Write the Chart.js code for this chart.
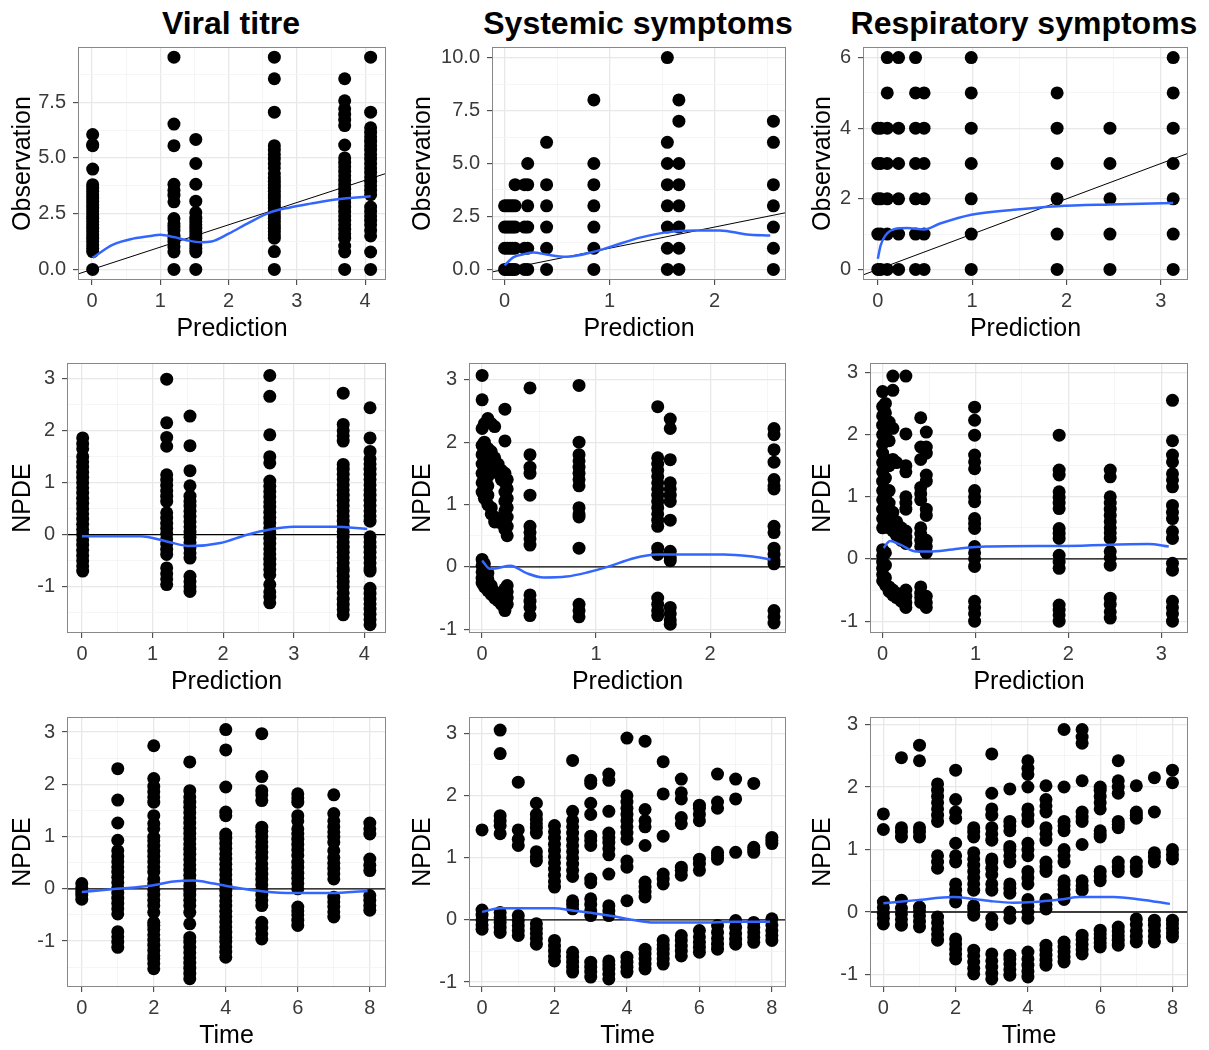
<!DOCTYPE html>
<html>
<head>
<meta charset="utf-8">
<script src="https://cdn.jsdelivr.net/npm/chart.js@4.4.0/dist/chart.umd.min.js"></script>
<style>
  body { margin: 0; background: #fff; width: 1209px; height: 1050px; position: relative; overflow: hidden;
         font-family: "Liberation Sans", Arial, sans-serif; }
  canvas { position: absolute; }
  .title { position: absolute; top: 4px; font-weight: bold; font-size: 32px; line-height: 38px;
           transform: translateX(-50%); color: #000; white-space: nowrap; }
</style>
</head>
<body>
<div class="title" style="left:231px">Viral titre</div>
<div class="title" style="left:638px">Systemic symptoms</div>
<div class="title" style="left:1024px">Respiratory symptoms</div>
<canvas id="c0"></canvas><canvas id="c1"></canvas><canvas id="c2"></canvas>
<canvas id="c3"></canvas><canvas id="c4"></canvas><canvas id="c5"></canvas>
<canvas id="c6"></canvas><canvas id="c7"></canvas><canvas id="c8"></canvas>
<script>
// ---- tick values ----
const predTicks4 = [0, 1, 2, 3, 4], predMinor4 = [0.5, 1.5, 2.5, 3.5];
const predTicks2 = [0, 1, 2], predMinor2 = [0.5, 1.5, 2.5];
const predTicks3 = [0, 1, 2, 3], predMinor3 = [0.5, 1.5, 2.5];
const timeTicks = [0, 2, 4, 6, 8], timeMinor = [1, 3, 5, 7];
const obsTicksA = [0, 2.5, 5, 7.5], obsMinorA = [1.25, 3.75, 6.25, 8.75];
const obsTicksB = [0, 2.5, 5, 7.5, 10], obsMinorB = [1.25, 3.75, 6.25, 8.75];
const obsTicksC = [0, 2, 4, 6], obsMinorC = [1, 3, 5];
const npdeTicks = [-1, 0, 1, 2, 3], npdeMinor = [-1.5, -0.5, 0.5, 1.5, 2.5];

// ---- viral titre: observation vs prediction ----
const vtObsCols = [0.01, 1.2, 1.52, 2.67, 3.7, 4.08];
const vtObsVals = [
  [0, 0.8, 0.95, 1.1, 1.25, 1.4, 1.55, 1.7, 1.85, 2.0, 2.15, 2.3, 2.45, 2.6, 2.75, 2.9, 3.05, 3.2, 3.35, 3.5, 3.65, 3.8, 4.5, 5.55, 5.6, 6.05],
  [0, 0.78, 1.0, 1.23, 1.4, 1.53, 1.75, 1.9, 2.05, 2.28, 3.03, 3.33, 3.55, 3.82, 5.55, 6.52, 9.52],
  [0, 0.78, 0.95, 1.1, 1.25, 1.4, 1.55, 1.7, 1.85, 2.0, 2.15, 2.3, 2.55, 3.06, 3.82, 4.75, 5.83],
  [0, 0.8, 1.4, 1.55, 1.7, 1.85, 2.0, 2.15, 2.3, 2.45, 2.6, 2.75, 2.9, 3.05, 3.2, 3.35, 3.5, 3.65, 3.8, 3.95, 4.1, 4.3, 4.55, 4.75, 4.95, 5.15, 5.35, 5.55, 7.05, 8.55, 9.52],
  [0, 0.78, 1.05, 1.4, 1.6, 1.8, 2.0, 2.2, 2.4, 2.6, 2.8, 3.0, 3.2, 3.4, 3.6, 3.8, 4.0, 4.2, 4.4, 4.6, 4.8, 5.0, 5.58, 6.45, 6.7, 6.95, 7.2, 7.56, 8.55],
  [0, 0.78, 1.5, 1.75, 2.0, 2.2, 2.4, 2.6, 2.8, 3.35, 3.55, 3.75, 3.95, 4.15, 4.35, 4.55, 4.75, 4.95, 5.15, 5.35, 5.55, 5.75, 5.95, 6.15, 6.35, 7.05, 9.52]
];
const vtObsFitX = [0.01, 0.3, 0.6, 0.9, 1.0, 1.2, 1.4, 1.6, 1.75, 2.0, 2.3, 2.6, 2.9, 3.2, 3.6, 4.08];
const vtObsFitY = [0.52, 1.1, 1.38, 1.52, 1.55, 1.45, 1.3, 1.22, 1.25, 1.6, 2.1, 2.55, 2.78, 2.95, 3.15, 3.28];

// ---- systemic symptoms: observation vs prediction ----
const ssObsCols = [0, 0.025, 0.05, 0.075, 0.1, 0.19, 0.22, 0.4, 0.85, 1.55, 1.66, 2.56];
const ssObsVals = [
  [0, 1, 2, 3], [0, 1, 2, 3], [0, 1, 2, 3], [0, 1, 2, 3], [0, 1, 2, 3, 4],
  [0, 1, 2, 4], [0, 1, 2, 3, 4, 5], [0, 1, 2, 3, 4, 6], [0, 1, 2, 3, 4, 5, 8],
  [0, 1, 2, 3, 4, 5, 6, 10], [0, 1, 2, 3, 4, 5, 7, 8], [0, 1, 2, 3, 4, 6, 7]
];
const ssObsFitX = [0, 0.086, 0.18, 0.276, 0.4, 0.59, 0.84, 1.04, 1.29, 1.55, 1.8, 2.05, 2.31, 2.53];
const ssObsFitY = [0.19, 0.58, 0.72, 0.8, 0.7, 0.6, 0.82, 1.12, 1.5, 1.76, 1.84, 1.84, 1.65, 1.6];

// ---- respiratory symptoms: observation vs prediction ----
const rsObsCols = [0, 0.03, 0.1, 0.22, 0.4, 0.49, 0.99, 1.9, 2.46, 3.13];
const rsObsVals = [
  [0, 1, 2, 3, 4], [0, 1, 2, 3, 4], [0, 1, 2, 3, 4, 5, 6], [0, 1, 2, 3, 4, 6],
  [0, 1, 2, 3, 4, 5, 6], [0, 1, 2, 3, 4, 5], [0, 1, 2, 3, 4, 5, 6], [0, 1, 2, 3, 4, 5],
  [0, 1, 2, 3, 4], [0, 1, 2, 3, 4, 5, 6]
];
const rsObsFitX = [0, 0.03, 0.08, 0.19, 0.31, 0.49, 0.66, 0.99, 1.44, 1.9, 2.46, 3.13];
const rsObsFitY = [0.3, 0.68, 0.96, 1.15, 1.17, 1.13, 1.3, 1.55, 1.69, 1.79, 1.84, 1.88];

// ---- viral titre: NPDE vs prediction ----
const vtPredCols = [0.01, 1.2, 1.53, 2.66, 3.7, 4.08];
const vtPredVals = [
  [-0.7, -0.6, -0.5, -0.4, -0.3, -0.2, -0.1, 0, 0.1, 0.2, 0.3, 0.4, 0.5, 0.6, 0.7, 0.8, 0.9, 1.0, 1.1, 1.2, 1.3, 1.4, 1.5, 1.65, 1.75, 1.86],
  [-0.96, -0.85, -0.75, -0.64, -0.38, -0.28, -0.18, -0.08, 0.02, 0.12, 0.22, 0.32, 0.42, 0.64, 0.74, 0.84, 0.95, 1.05, 1.15, 1.7, 1.87, 2.15, 2.99],
  [-1.09, -1.0, -0.9, -0.8, -0.45, -0.35, -0.25, -0.15, -0.05, 0.05, 0.15, 0.25, 0.35, 0.45, 0.55, 0.64, 0.74, 0.94, 1.23, 1.71, 2.28],
  [-1.31, -1.2, -1.1, -0.96, -0.77, -0.67, -0.57, -0.47, -0.37, -0.27, -0.17, -0.07, 0.03, 0.13, 0.23, 0.33, 0.43, 0.53, 0.63, 0.73, 0.83, 0.93, 1.03, 1.38, 1.5, 1.92, 2.66, 3.06],
  [-1.54, -1.44, -1.34, -1.24, -1.12, -1.0, -0.9, -0.8, -0.7, -0.64, -0.54, -0.44, -0.34, -0.24, -0.14, -0.04, 0.06, 0.16, 0.26, 0.36, 0.46, 0.56, 0.66, 0.76, 0.86, 0.96, 1.06, 1.16, 1.26, 1.35, 1.8, 1.9, 2.0, 2.12, 2.72],
  [-1.73, -1.63, -1.53, -1.43, -1.33, -1.23, -1.13, -1.03, -0.7, -0.64, -0.54, -0.44, -0.34, -0.24, -0.14, -0.04, 0.26, 0.36, 0.46, 0.56, 0.66, 0.76, 0.86, 0.96, 1.06, 1.16, 1.26, 1.36, 1.46, 1.6, 1.86, 2.44]
];
const vtPredFitX = [0, 0.83, 1.2, 1.53, 1.96, 2.34, 2.66, 3.0, 3.57, 4.04];
const vtPredFitY = [-0.03, -0.03, -0.13, -0.22, -0.16, 0, 0.1, 0.15, 0.15, 0.11];

// ---- systemic symptoms: NPDE vs prediction ----
const ssPredCols = [0, 0.02, 0.05, 0.08, 0.11, 0.14, 0.17, 0.2, 0.22, 0.42, 0.85, 1.54, 1.65, 2.56];
const ssPredVals = [
  [3.07, 2.68, 2.22, 1.95, 1.8, 1.65, 1.5, 1.35, 1.2, 0.12, 0.02, -0.08, -0.18, -0.26],
  [2.3, 2.0, 1.85, 1.7, 1.55, 1.4, 1.25, 1.1, 0.05, -0.05, -0.15, -0.25, -0.32],
  [2.38, 1.9, 1.75, 1.6, 1.45, 1.3, 1.15, 1.0, -0.1, -0.2, -0.3, -0.38],
  [2.3, 1.85, 1.7, 1.55, 0.95, 0.85, -0.3, -0.38, -0.44],
  [2.25, 1.75, 1.6, 0.8, 0.72, -0.4, -0.46, -0.5],
  [1.65, 1.5, 0.72, -0.48, -0.54],
  [1.55, 1.4, 0.7, -0.55, -0.6],
  [2.53, 2.02, 1.5, 1.35, 1.2, 1.05, 0.9, 0.75, 0.6, -0.35, -0.45, -0.55, -0.65, -0.7],
  [1.4, 1.25, 1.1, 0.95, 0.8, 0.65, 0.5, -0.3, -0.4, -0.5, -0.6],
  [2.87, 1.8, 1.6, 1.5, 1.15, 0.65, 0.55, 0.45, 0.35, -0.45, -0.55, -0.65, -0.78],
  [2.91, 2.0, 1.8, 1.7, 1.6, 1.5, 1.4, 1.3, 0.95, 0.85, 0.8, 0.3, -0.6, -0.7, -0.8],
  [2.57, 1.75, 1.65, 1.55, 1.45, 1.35, 1.25, 1.15, 1.05, 0.95, 0.85, 0.75, 0.65, 0.3, 0.2, -0.5, -0.6, -0.7, -0.78],
  [2.37, 2.22, 1.72, 1.35, 1.25, 1.15, 1.05, 0.75, 0.25, 0.15, 0.1, -0.65, -0.75, -0.85, -0.92],
  [2.22, 2.12, 1.88, 1.68, 1.4, 1.3, 1.25, 0.65, 0.55, 0.3, 0.2, 0.1, 0.05, -0.7, -0.8, -0.9]
];
const ssPredFitX = [0, 0.07, 0.13, 0.25, 0.39, 0.54, 0.74, 0.92, 1.1, 1.33, 1.53, 1.91, 2.12, 2.35, 2.53];
const ssPredFitY = [0.1, -0.03, -0.02, 0.02, -0.1, -0.17, -0.155, -0.09, 0, 0.14, 0.2, 0.2, 0.2, 0.17, 0.12];

// ---- respiratory symptoms: NPDE vs prediction ----
const rsPredCols = [0, 0.03, 0.07, 0.11, 0.15, 0.2, 0.25, 0.41, 0.47, 0.99, 1.9, 2.45, 3.12];
const rsPredVals = [
  [2.69, 2.45, 2.3, 2.15, 2.0, 1.85, 1.7, 1.55, 1.4, 1.25, 1.1, 0.95, 0.8, 0.65, 0.5, 0.15, 0.05, -0.05, -0.15, -0.25, -0.35],
  [2.5, 2.35, 2.0, 1.6, 1.3, 1.0, 0.8, 0.6, 0.1, -0.1, -0.3, -0.42],
  [2.2, 1.9, 1.5, 1.1, 0.9, 0.7, 0.5, -0.45, -0.52],
  [2.94, 2.71, 2.1, 1.6, 0.75, 0.55, 0.45, -0.5, -0.58],
  [1.55, 0.6, 0.45, 0.38, -0.55, -0.62],
  [0.5, 0.4, 0.3, -0.6, -0.68],
  [2.94, 2.01, 1.5, 1.4, 1.0, 0.9, 0.8, 0.45, 0.35, 0.25, -0.5, -0.6, -0.7, -0.78],
  [2.27, 1.8, 1.6, 1.15, 1.05, 0.95, 0.5, 0.4, 0.3, 0.2, -0.45, -0.55, -0.62, -0.7],
  [2.04, 1.8, 1.7, 1.35, 1.25, 0.8, 0.7, 0.3, 0.2, 0.1, -0.6, -0.7, -0.78],
  [2.44, 2.23, 1.99, 1.67, 1.56, 1.45, 1.1, 1.0, 0.92, 0.65, 0.57, 0.49, 0.2, 0.1, 0.0, -0.12, -0.68, -0.78, -0.88, -1.0],
  [1.99, 1.43, 1.35, 1.08, 0.99, 0.9, 0.81, 0.49, 0.41, 0.33, 0.06, -0.05, -0.15, -0.74, -0.82, -0.9, -1.0],
  [1.43, 1.32, 1.0, 0.9, 0.8, 0.7, 0.6, 0.5, 0.42, 0.33, 0.12, 0.02, -0.1, -0.63, -0.73, -0.85, -0.95],
  [2.55, 1.9, 1.67, 1.56, 1.37, 1.27, 1.16, 0.86, 0.75, 0.65, 0.44, 0.33, -0.07, -0.18, -0.68, -0.78, -0.88, -1.0]
];
const rsPredFitX = [0.01, 0.08, 0.19, 0.36, 0.54, 0.83, 1.11, 1.97, 2.86, 3.08];
const rsPredFitY = [0.18, 0.29, 0.23, 0.12, 0.12, 0.17, 0.2, 0.21, 0.24, 0.2];

// ---- viral titre: NPDE vs time ----
const vtTimeCols = [0, 1, 2, 3, 4, 5, 6, 7, 8];
const vtTimeVals = [
  [-0.2, -0.12, -0.05, 0.02, 0.1],
  [-1.12, -1.02, -0.92, -0.82, -0.48, -0.38, -0.28, -0.18, -0.08, 0.02, 0.12, 0.22, 0.32, 0.42, 0.52, 0.62, 0.73, 0.93, 1.26, 1.7, 2.3],
  [-1.53, -1.43, -1.34, -1.28, -1.18, -1.08, -0.98, -0.88, -0.78, -0.7, -0.64, -0.45, -0.32, -0.22, -0.12, -0.02, 0.09, 0.19, 0.32, 0.42, 0.52, 0.62, 0.72, 0.82, 0.92, 0.99, 1.15, 1.25, 1.4, 1.66, 1.76, 1.86, 1.96, 2.11, 2.74],
  [-1.72, -1.62, -1.52, -1.42, -1.32, -1.22, -1.12, -1.02, -0.93, -0.67, -0.45, -0.32, -0.22, -0.12, -0.03, 0.06, 0.16, 0.26, 0.36, 0.46, 0.56, 0.66, 0.76, 0.86, 0.96, 1.06, 1.16, 1.26, 1.36, 1.46, 1.56, 1.66, 1.76, 1.88, 2.43],
  [-1.31, -1.21, -1.11, -1.01, -0.93, -0.83, -0.73, -0.63, -0.53, -0.43, -0.33, -0.23, -0.13, -0.03, 0.07, 0.17, 0.27, 0.37, 0.47, 0.57, 0.67, 0.77, 0.87, 0.97, 1.05, 1.4, 1.47, 1.95, 2.66, 3.05],
  [-0.96, -0.86, -0.75, -0.64, -0.32, -0.22, -0.12, -0.02, 0.08, 0.18, 0.28, 0.38, 0.48, 0.6, 0.7, 0.8, 0.9, 1.0, 1.1, 1.18, 1.69, 1.8, 1.88, 2.15, 2.97],
  [-0.7, -0.6, -0.5, -0.42, -0.35, 0, 0.1, 0.2, 0.3, 0.41, 0.51, 0.64, 0.75, 0.85, 0.95, 1.05, 1.15, 1.3, 1.4, 1.66, 1.74, 1.82],
  [-0.54, -0.44, -0.34, -0.25, -0.16, 0.19, 0.29, 0.39, 0.49, 0.6, 0.73, 0.89, 0.99, 1.09, 1.19, 1.3, 1.44, 1.8],
  [-0.41, -0.32, -0.22, -0.13, 0.35, 0.45, 0.57, 1.05, 1.15, 1.26]
];
const vtTimeFitX = [0, 0.97, 1.9, 2.55, 3.1, 3.67, 4.22, 5.06, 5.89, 6.91, 7.94];
const vtTimeFitY = [-0.06, 0, 0.06, 0.14, 0.16, 0.1, 0.03, -0.05, -0.08, -0.08, -0.04];

// ---- systemic symptoms: NPDE vs time ----
const ssTimeCols = [0, 0.5, 1, 1.5, 2, 2.5, 3, 3.5, 4, 4.5, 5, 5.5, 6, 6.5, 7, 7.5, 8];
const ssTimeVals = [
  [-0.15, -0.08, 0, 0.08, 0.16, 1.45],
  [-0.2, -0.12, -0.04, 0.04, 0.12, 1.39, 1.52, 1.6, 1.68, 2.68, 3.06],
  [-0.25, -0.17, -0.09, -0.01, 0.07, 1.2, 1.3, 1.45, 2.22],
  [-0.39, -0.3, -0.22, -0.14, -0.06, 0.95, 1.02, 1.1, 1.4, 1.48, 1.55, 1.62, 1.7, 1.88],
  [-0.66, -0.58, -0.5, -0.42, -0.33, 0.53, 0.62, 0.72, 0.82, 0.92, 1.02, 1.12, 1.22, 1.32, 1.42, 1.52],
  [-0.84, -0.76, -0.68, -0.6, -0.52, 0.18, 0.25, 0.31, 0.7, 0.8, 0.9, 1.0, 1.1, 1.2, 1.3, 1.4, 1.5, 1.6, 1.75, 2.57],
  [-0.92, -0.84, -0.76, -0.68, 0.07, 0.15, 0.25, 0.34, 0.6, 0.66, 1.2, 1.28, 1.35, 1.7, 1.88, 2.2, 2.25],
  [-0.95, -0.87, -0.79, -0.72, -0.66, 0.07, 0.15, 0.23, 0.74, 1.05, 1.15, 1.25, 1.32, 1.4, 1.75, 2.25, 2.35],
  [-0.84, -0.76, -0.68, -0.6, 0.31, 0.85, 0.95, 1.3, 1.4, 1.5, 1.6, 1.7, 1.8, 1.9, 2.0, 2.93],
  [-0.79, -0.71, -0.63, -0.55, -0.47, 0.37, 0.45, 0.53, 0.61, 1.2, 1.5, 1.6, 1.78, 2.88],
  [-0.71, -0.63, -0.55, -0.47, -0.4, -0.33, 0.58, 0.66, 0.74, 1.35, 2.03, 2.55],
  [-0.58, -0.5, -0.42, -0.33, -0.25, 0.72, 0.8, 0.85, 1.55, 1.65, 1.95, 2.05, 2.27],
  [-0.52, -0.44, -0.36, -0.27, -0.17, 0.8, 0.9, 0.98, 1.6, 1.7, 1.8, 1.85],
  [-0.47, -0.39, -0.3, -0.2, -0.09, 0.98, 1.04, 1.09, 1.8, 1.9, 2.35],
  [-0.39, -0.31, -0.22, -0.12, -0.01, 1.09, 1.95, 2.27],
  [-0.36, -0.28, -0.2, -0.12, -0.04, 1.09, 1.13, 1.17, 2.2],
  [-0.33, -0.25, -0.17, -0.08, 0.02, 1.23, 1.28, 1.33]
];
const ssTimeFitX = [0, 0.5, 1.98, 2.53, 3.08, 3.63, 4.18, 4.74, 6.02, 6.94, 7.95];
const ssTimeFitY = [0.13, 0.19, 0.19, 0.15, 0.11, 0.06, 0, -0.04, -0.04, -0.03, -0.03];

// ---- respiratory symptoms: NPDE vs time ----
const rsTimeCols = [0, 0.5, 1, 1.5, 2, 2.5, 3, 3.5, 4, 4.5, 5, 5.5, 6, 6.5, 7, 7.5, 8];
const rsTimeVals = [
  [-0.19, -0.1, -0.02, 0.07, 0.16, 1.32, 1.57],
  [-0.21, -0.12, -0.03, 0.06, 0.19, 1.2, 1.28, 1.35, 2.47],
  [-0.24, -0.15, -0.06, 0.02, 0.08, 1.2, 1.28, 1.35, 2.42, 2.67],
  [-0.45, -0.36, -0.27, -0.17, -0.08, 0.7, 0.8, 0.9, 1.45, 1.55, 1.65, 1.75, 1.85, 1.95, 2.05],
  [-0.75, -0.67, -0.59, -0.51, -0.43, 0.16, 0.25, 0.35, 0.45, 0.8, 0.9, 1.1, 1.5, 1.6, 1.8, 2.27],
  [-0.99, -0.9, -0.8, -0.7, -0.61, -0.05, 0.05, 0.1, 0.35, 0.45, 0.55, 0.65, 0.75, 0.85, 0.95, 1.2, 1.28, 1.35],
  [-1.07, -0.98, -0.88, -0.78, -0.67, -0.2, -0.1, 0.35, 0.45, 0.6, 0.7, 0.8, 0.85, 1.15, 1.25, 1.35, 1.55, 1.65, 1.9, 2.53],
  [-1.01, -0.92, -0.83, -0.75, -0.69, -0.1, 0.0, 0.3, 0.38, 0.45, 0.8, 0.9, 1.0, 1.05, 1.3, 1.38, 1.45, 1.97],
  [-1.04, -0.95, -0.85, -0.75, -0.64, -0.1, 0.0, 0.1, 0.2, 0.45, 0.55, 0.65, 0.9, 1.0, 1.1, 1.45, 1.55, 1.65, 2.0, 2.2, 2.3, 2.42],
  [-0.85, -0.77, -0.69, -0.61, -0.53, 0.05, 0.12, 0.2, 0.65, 0.72, 0.8, 1.15, 1.25, 1.35, 1.6, 1.7, 1.8, 2.02],
  [-0.8, -0.72, -0.64, -0.56, -0.48, 0.2, 0.28, 0.36, 0.44, 0.5, 0.8, 0.9, 1.0, 1.3, 1.38, 1.45, 2.0, 2.92],
  [-0.67, -0.6, -0.52, -0.44, -0.37, 0.35, 0.42, 0.5, 1.08, 1.45, 1.52, 1.6, 2.1, 2.7, 2.8, 2.92],
  [-0.56, -0.49, -0.42, -0.35, -0.29, 0.5, 0.57, 0.65, 1.2, 1.25, 1.3, 1.65, 1.75, 1.85, 1.95, 2.0],
  [-0.53, -0.45, -0.38, -0.31, -0.24, 0.65, 0.72, 0.8, 1.35, 1.4, 1.45, 1.9, 2.0, 2.1, 2.42],
  [-0.48, -0.39, -0.3, -0.2, -0.11, 0.65, 0.72, 0.8, 1.5, 1.55, 1.6, 2.02],
  [-0.48, -0.39, -0.3, -0.21, -0.13, 0.8, 0.88, 0.95, 1.6, 2.15],
  [-0.4, -0.33, -0.26, -0.19, -0.13, 0.85, 0.92, 1.0, 2.07, 2.27]
];
const rsTimeFitX = [0, 0.92, 1.94, 2.49, 3.04, 3.6, 4.15, 4.89, 5.44, 6.37, 7.1, 7.93];
const rsTimeFitY = [0.14, 0.19, 0.24, 0.21, 0.17, 0.15, 0.16, 0.2, 0.24, 0.24, 0.2, 0.13];

// panel layout: [canvas left, plot left, plot top, plot right, plot bottom]
const panels = [
  { cols: vtObsCols, vals: vtObsVals, fx: vtObsFitX, fy: vtObsFitY, ref: 'identity',
    xr: [-0.205, 4.305], yr: [-0.475, 9.975], xt: [predTicks4, predMinor4], yt: [obsTicksA, obsMinorA], dec: 1,
    xTitle: 'Prediction', yTitle: 'Observation', box: [0, 78, 47, 386, 280] },
  { cols: ssObsCols, vals: ssObsVals, fx: ssObsFitX, fy: ssObsFitY, ref: 'identity',
    xr: [-0.12, 2.68], yr: [-0.5, 10.5], xt: [predTicks2, predMinor2], yt: [obsTicksB, obsMinorB], dec: 1,
    xTitle: 'Prediction', yTitle: 'Observation', box: [400, 492, 47, 786, 280] },
  { cols: rsObsCols, vals: rsObsVals, fx: rsObsFitX, fy: rsObsFitY, ref: 'identity',
    xr: [-0.157, 3.287], yr: [-0.3, 6.3], xt: [predTicks3, predMinor3], yt: [obsTicksC, obsMinorC], dec: 0,
    xTitle: 'Prediction', yTitle: 'Observation', box: [800, 863, 47, 1188, 280] },
  { cols: vtPredCols, vals: vtPredVals, fx: vtPredFitX, fy: vtPredFitY, ref: 'zero',
    xr: [-0.212, 4.306], yr: [-1.89, 3.30], xt: [predTicks4, predMinor4], yt: [npdeTicks, npdeMinor], dec: 0,
    xTitle: 'Prediction', yTitle: 'NPDE', box: [0, 67, 363, 386, 633] },
  { cols: ssPredCols, vals: ssPredVals, fx: ssPredFitX, fy: ssPredFitY, ref: 'zero',
    xr: [-0.115, 2.665], yr: [-1.06, 3.27], xt: [predTicks2, predMinor2], yt: [npdeTicks, npdeMinor], dec: 0,
    xTitle: 'Prediction', yTitle: 'NPDE', box: [400, 469, 363, 786, 633] },
  { cols: rsPredCols, vals: rsPredVals, fx: rsPredFitX, fy: rsPredFitY, ref: 'zero',
    xr: [-0.136, 3.287], yr: [-1.19, 3.15], xt: [predTicks3, predMinor3], yt: [npdeTicks, npdeMinor], dec: 0,
    xTitle: 'Prediction', yTitle: 'NPDE', box: [800, 870, 363, 1188, 633] },
  { cols: vtTimeCols, vals: vtTimeVals, fx: vtTimeFitX, fy: vtTimeFitY, ref: 'zero',
    xr: [-0.41, 8.45], yr: [-1.88, 3.29], xt: [timeTicks, timeMinor], yt: [npdeTicks, npdeMinor], dec: 0,
    xTitle: 'Time', yTitle: 'NPDE', box: [0, 67, 717, 386, 987] },
  { cols: ssTimeCols, vals: ssTimeVals, fx: ssTimeFitX, fy: ssTimeFitY, ref: 'zero',
    xr: [-0.36, 8.39], yr: [-1.08, 3.27], xt: [timeTicks, timeMinor], yt: [npdeTicks, npdeMinor], dec: 0,
    xTitle: 'Time', yTitle: 'NPDE', box: [400, 469, 717, 786, 987] },
  { cols: rsTimeCols, vals: rsTimeVals, fx: rsTimeFitX, fy: rsTimeFitY, ref: 'zero',
    xr: [-0.37, 8.43], yr: [-1.2, 3.12], xt: [timeTicks, timeMinor], yt: [npdeTicks, npdeMinor], dec: 0,
    xTitle: 'Time', yTitle: 'NPDE', box: [800, 870, 717, 1188, 987] }
];

Chart.defaults.font.family = '"Liberation Sans", Arial, sans-serif';

const TOP_PAD = 12, RIGHT_PAD = 8, X_AXIS_H = 64;

const panelBorder = {
  id: 'panelBorder',
  afterDraw(chart) {
    const a = chart.chartArea, c = chart.ctx;
    c.save();
    c.strokeStyle = '#888888';
    c.lineWidth = 1;
    c.strokeRect(Math.round(a.left) + 0.5, Math.round(a.top) + 0.5,
                 Math.round(a.right - a.left) - 1, Math.round(a.bottom - a.top) - 1);
    c.restore();
  }
};

function axis(isX, range, ticks, dec, title, size) {
  const [maj, mnr] = ticks;
  const isMaj = ctx => ctx.tick && maj.includes(ctx.tick.value);
  return {
    type: 'linear',
    position: isX ? 'bottom' : 'left',
    min: range[0],
    max: range[1],
    afterBuildTicks: s => {
      s.ticks = maj.concat(mnr).filter(v => v >= range[0] && v <= range[1])
        .sort((a, b) => a - b).map(v => ({ value: v }));
    },
    afterFit: s => {
      if (isX) s.height = size; else s.width = size;
      s.paddingTop = 0; s.paddingBottom = 0; s.paddingLeft = 0; s.paddingRight = 0;
    },
    border: { display: false },
    grid: {
      color: ctx => isMaj(ctx) ? '#e8e8e8' : '#f3f3f3',
      lineWidth: ctx => isMaj(ctx) ? 1.3 : 0.8,
      tickColor: ctx => isMaj(ctx) ? '#333333' : 'rgba(0,0,0,0)',
      tickLength: 5,
      tickWidth: 1
    },
    ticks: {
      autoSkip: false,
      maxRotation: 0,
      padding: isX ? 4 : 7,
      color: '#3a3a3a',
      font: { size: 20 },
      callback: v => maj.includes(v) ? v.toFixed(dec) : ''
    },
    title: {
      display: true,
      text: title,
      color: '#000',
      font: { size: 25 },
      padding: isX ? { top: 0, bottom: 0 } : { top: 8, bottom: 0 }
    }
  };
}

panels.forEach((p, i) => {
  const [cl, L, T, R, B] = p.box;
  const canvas = document.getElementById('c' + i);
  const top = T - TOP_PAD;
  canvas.width = R + RIGHT_PAD - cl;
  canvas.height = B + X_AXIS_H - top;
  canvas.style.left = cl + 'px';
  canvas.style.top = top + 'px';

  const points = [];
  p.cols.forEach((x, j) => p.vals[j].forEach(y => points.push({ x: x, y: y })));
  const fit = p.fx.map((x, j) => ({ x: x, y: p.fy[j] }));
  const ref = p.ref === 'identity'
    ? [{ x: p.xr[0], y: p.xr[0] }, { x: p.xr[1], y: p.xr[1] }]
    : [{ x: p.xr[0], y: 0 }, { x: p.xr[1], y: 0 }];

  new Chart(canvas, {
    type: 'scatter',
    data: {
      datasets: [
        { type: 'line', data: fit, borderColor: '#3366ff', borderWidth: 2.5, pointRadius: 0,
          tension: 0.4, cubicInterpolationMode: 'monotone', fill: false, order: 0 },
        { type: 'line', data: ref, borderColor: '#000000', borderWidth: p.ref === 'zero' ? 1.3 : 1,
          pointRadius: 0, fill: false, order: 1 },
        { data: points, backgroundColor: '#000000', borderWidth: 0, pointRadius: 6.5, order: 2 }
      ]
    },
    options: {
      responsive: false,
      animation: false,
      devicePixelRatio: 1,
      events: [],
      layout: { padding: { top: TOP_PAD, right: RIGHT_PAD, left: 0, bottom: 0 } },
      plugins: { legend: { display: false }, tooltip: { enabled: false } },
      scales: {
        x: axis(true, p.xr, p.xt, 0, p.xTitle, X_AXIS_H),
        y: axis(false, p.yr, p.yt, p.dec, p.yTitle, L - cl)
      }
    },
    plugins: [panelBorder]
  });
});
</script>
</body>
</html>
